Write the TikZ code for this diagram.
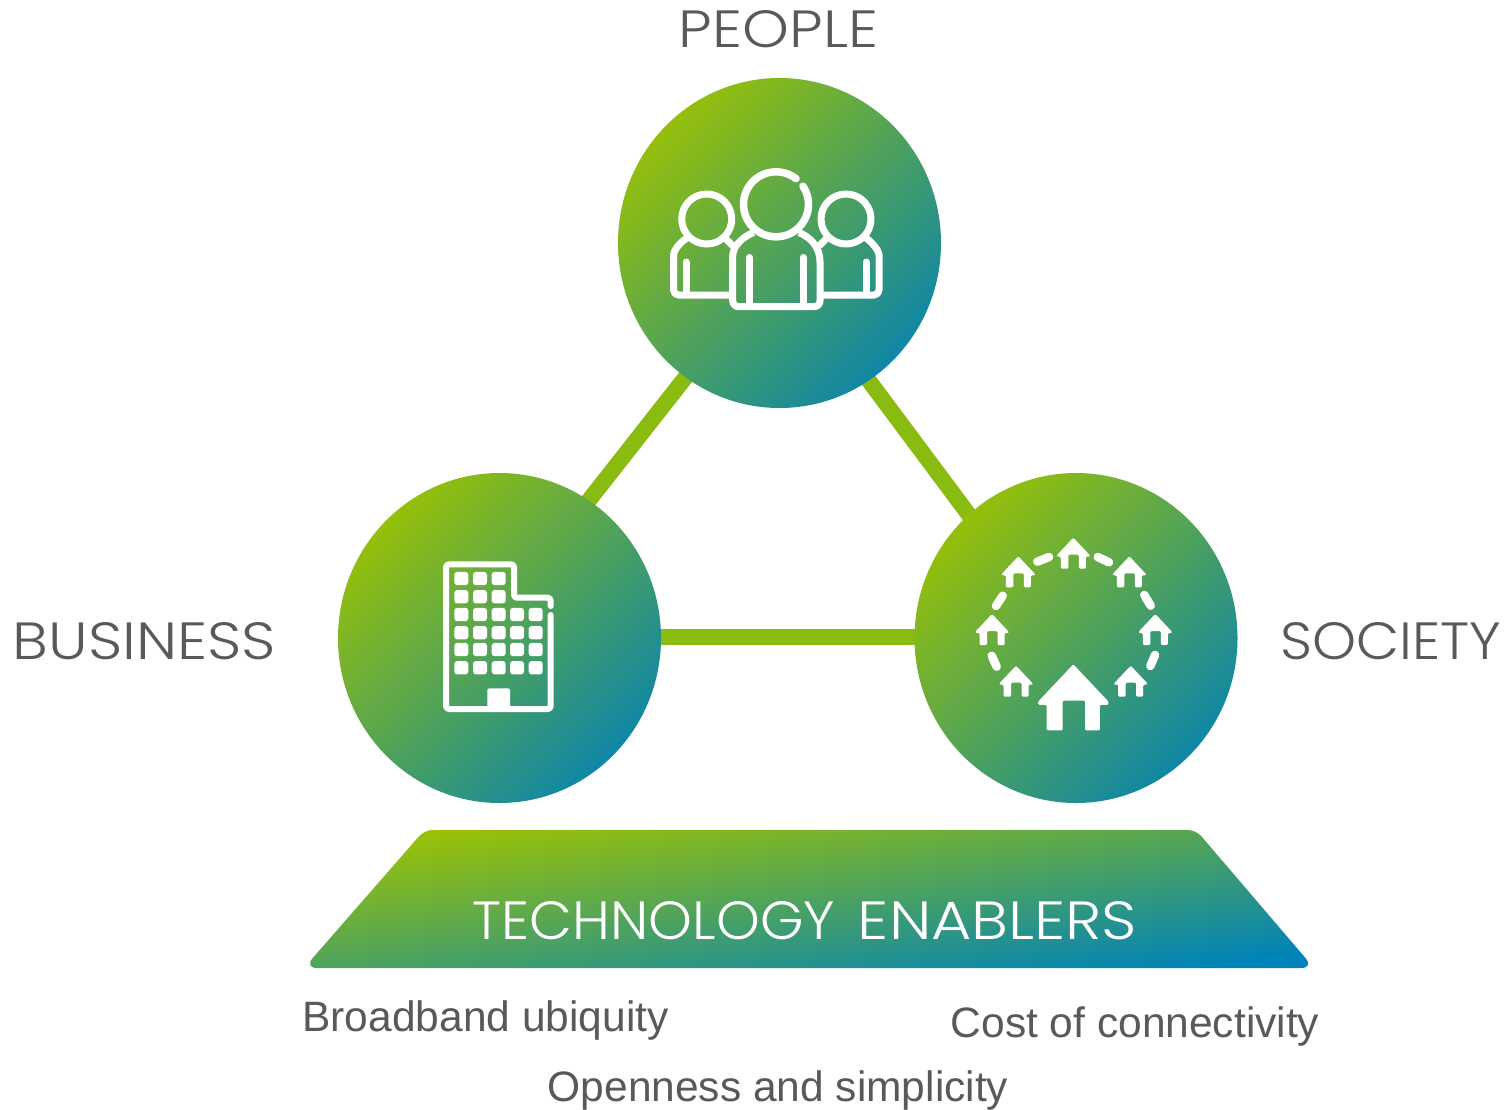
\documentclass[tikz,border=0pt]{standalone}
\usepackage{fontspec}
\usepackage{graphicx}
\setmainfont{Liberation Sans}
\newfontfamily\headf{Poppins Light}
\usetikzlibrary{shapes.geometric,backgrounds}
\definecolor{gA}{HTML}{94BF0B}
\definecolor{gB}{HTML}{0F87A5}
\definecolor{tA}{HTML}{9CC203}
\definecolor{tB}{HTML}{0083B8}
\definecolor{linkc}{HTML}{8ABB10}
\definecolor{txt}{HTML}{595959}
\definecolor{head}{HTML}{58595B}
\tikzset{
  hub/.style={ellipse,inner sep=0pt,minimum width=323pt,minimum height=330pt,shade,top color=gA,bottom color=gB,shading angle=45},
  linkline/.style={line width=16pt,draw=linkc},
  ico/.style={draw=white,line width=7pt,line cap=round,line join=round},
  bld/.style={draw=white,line width=6pt,line cap=round,line join=round},
  thick ico/.style={draw=white,line width=7.5pt,line cap=round},
  dash piece/.style={draw=white,line width=8.5pt,line cap=round},
  win/.style={fill=white,rounded corners=3pt},
  headlabel/.style={text=head,inner sep=0pt},
  bodylabel/.style={text=txt,inner sep=0pt,font=\fontsize{42.5}{50}\selectfont},
}
% house icon: #1 x of peak, #2 y of peak, #3 scale (1 = small house)
\newcommand{\houseicon}[3]{%
  \fill[white,rounded corners=1.2pt,shift={(#1,#2)},x=#3pt,y=-#3pt]
    (0,0) -- (16.5,17.5) -- (16.5,19) -- (12.5,19) -- (12.5,31) -- (5.5,31) -- (5.5,17) -- (-5,17) -- (-5,31) -- (-12.5,31) -- (-12.5,19) -- (-16.5,19) -- (-16.5,17.5) -- cycle;%
}
\begin{document}
\begin{tikzpicture}[x=1pt,y=-1pt]
\useasboundingbox (0,0) rectangle (1511,1109);
% hubs
\node[hub] (people) at (779.5,243) {};
\node[hub] (business) at (499.5,638) {};
\node[hub] (society) at (1076,638) {};
% links
\begin{pgfonlayer}{background}
\draw[linkline,shorten <=-8pt,shorten >=-8pt] (people.235) -- (business.57);
\draw[linkline,shorten <=-8pt,shorten >=-8pt] (people.-57) -- (society.131.5);
\draw[linkline,shorten <=-8pt,shorten >=-8pt] ([yshift=1pt]business.east) -- ([yshift=1pt]society.west);
\end{pgfonlayer}
% people icon
\draw[thick ico] ([shift={(52:32.5pt)}]776,204.3) arc[start angle=52,end angle=394,radius=32.5pt];
\draw[ico] (706.7,219) circle[radius=25pt];
\draw[ico] (846,219) circle[radius=25pt];
\draw[ico,line cap=butt,rounded corners=6pt] (753.5,232.5) .. controls (740,238) and (732.7,248) .. (732.7,262) -- (732.7,306.7) -- (820,306.7) -- (820,262);
\draw[ico,line cap=butt] (820,262) .. controls (820,248) and (812,238) .. (799,232.5);
\draw[ico] (749.5,257.5) -- (749.5,304);
\draw[ico] (803.3,257.5) -- (803.3,304);
\draw[ico,line cap=butt,rounded corners=5pt] (687,238) .. controls (679,243) and (673.5,251) .. (673.5,260) -- (673.5,295) -- (731,295);
\draw[ico,line cap=butt] (725,238) -- (733,246);
\draw[ico] (686,262) -- (686,293);
\draw[ico,line cap=butt,rounded corners=5pt] (866,238) .. controls (873,243) and (879,251) .. (879,260) -- (879,295) -- (822,295);
\draw[ico,line cap=butt] (827,238) -- (819,246);
\draw[ico] (866,262) -- (866,293);
% building icon
\draw[bld,rounded corners=3pt] (550.7,606) -- (550.7,597.7) -- (514,597.7) -- (514,564.3) -- (446,564.3) -- (446,709) -- (550.7,709) -- (550.7,615);
\foreach \cx in {461.3,480,498.7}
  \foreach \cy in {578.5,596.7}
    \fill[win] (\cx-7,\cy-6.7) rectangle (\cx+7,\cy+6.7);
\foreach \cx in {461.3,480,498.7,517,535.7}
  \foreach \cy in {614.5,632.7,649.5,667.7}
    \fill[win] (\cx-7,\cy-6.7) rectangle (\cx+7,\cy+6.7);
\fill[white,rounded corners=2pt] (487.3,709) -- (487.3,688.3) -- (510,688.3) -- (510,709) -- cycle;
% society icon
\houseicon{1073.3}{537.7}{1}
\houseicon{1018.3}{556.3}{1}
\houseicon{1129.3}{556.3}{1}
\houseicon{992}{614}{1}
\houseicon{1155.3}{614}{1}
\houseicon{1016}{665.7}{1}
\houseicon{1130.7}{665.7}{1}
\houseicon{1073.3}{664.3}{2.13}
\draw[dash piece] (1037.3,561.7) -- (1049,557);
\draw[dash piece] (1097.7,557) -- (1109,562.3);
\draw[dash piece] (1144.3,595) -- (1150.7,605.7);
\draw[dash piece] (1155,655) -- (1150.3,666);
\draw[dash piece] (991.7,655.7) -- (996.7,666.7);
\draw[dash piece] (1002.7,595.7) -- (996,606);
% platform
\shade[top color=tA,bottom color=tB,shading angle=8]
  [rounded corners=8pt] (424.5,830) -- (1196,830) [rounded corners=13pt] -- (1314,968) -- (304,968) [rounded corners=8pt] -- cycle;
% labels
\node[headlabel] (lpeople) at (778.5,29) {\resizebox{199pt}{37pt}{\headf PEOPLE}};
\node[headlabel] (lbusiness) at (144.5,641) {\resizebox{263pt}{37pt}{\headf BUSINESS}};
\node[headlabel] (lsociety) at (1391,641) {\resizebox{221pt}{37pt}{\headf SOCIETY}};
\node[headlabel,text=white] (ltech) at (805,921) {\spaceskip=23pt\resizebox{362pt}{38pt}{\headf TECHNOLOGY} \resizebox{279pt}{38pt}{\headf ENABLERS}};
\node[bodylabel,yshift=-3pt] (lbroad) at (485.5,1017) {Broadband ubiquity};
\node[bodylabel,yshift=-3pt] (lcost) at (1135,1023) {Cost of connectivity};
\node[bodylabel,yshift=-3pt] (lopen) at (778,1087) {Openness and simplicity};
\end{tikzpicture}
\end{document}
